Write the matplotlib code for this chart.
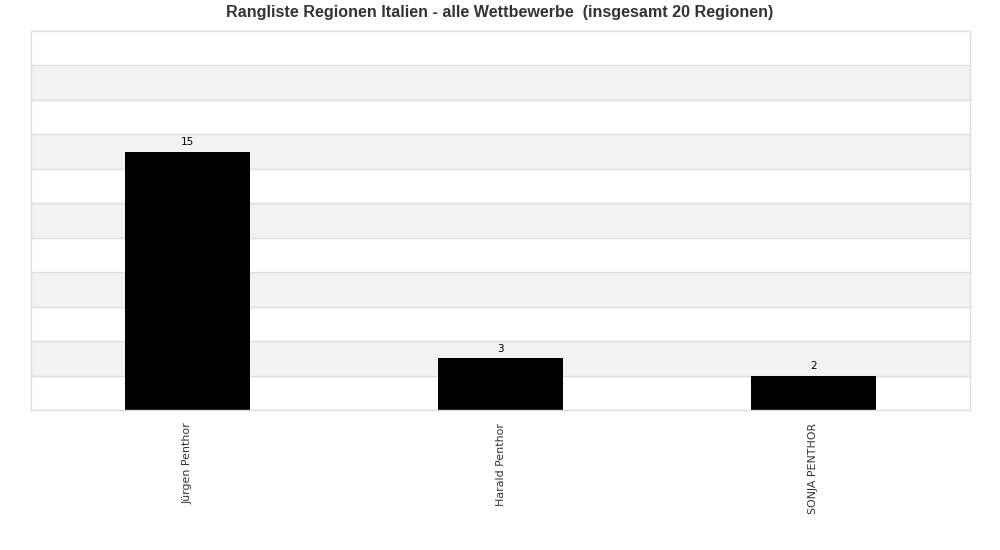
import matplotlib
matplotlib.use("Agg")
import matplotlib.pyplot as plt

names = ["Jürgen Penthor", "Harald Penthor", "SONJA PENTHOR"]
values = [15, 3, 2]
title = "Rangliste Regionen Italien - alle Wettbewerbe  (insgesamt 20 Regionen)"

fig = plt.figure(figsize=(10, 5.5), dpi=100)
ax = fig.add_axes([0.031, 0.2545, 0.939, 0.6891])

ymax = 22
step = 2
for i, y0 in enumerate(range(0, ymax, step)):
    if i % 2 == 1:
        ax.axhspan(y0, y0 + step, color="#f2f2f2", zorder=0, lw=0)
for y0 in range(step, ymax, step):
    ax.axhline(y0, color="#dddddd", lw=1, zorder=1)

x = list(range(len(names)))
bars = ax.bar(x, values, width=0.4, color="#000000", zorder=2)
for xi, v in zip(x, values):
    ax.text(xi, v + 0.25, str(v), ha="center", va="bottom", fontsize=7.5,
            color="#000000", family="DejaVu Sans")

ax.set_xlim(-0.5, len(names) - 0.5)
ax.set_ylim(0, ymax)
ax.set_yticks([])
ax.set_xticks(x)
ax.set_xticklabels(names, rotation=90, fontsize=7.9, color="#333333", family="DejaVu Sans")
ax.tick_params(axis="x", length=0, pad=9)
for s in ax.spines.values():
    s.set_color("#dddddd")
    s.set_linewidth(1)

fig.text(0.5, 0.978, title, ha="center", va="center", fontsize=11.6, fontweight="bold",
         color="#333333", family="Liberation Sans")

fig.savefig("out.png", dpi=100)
